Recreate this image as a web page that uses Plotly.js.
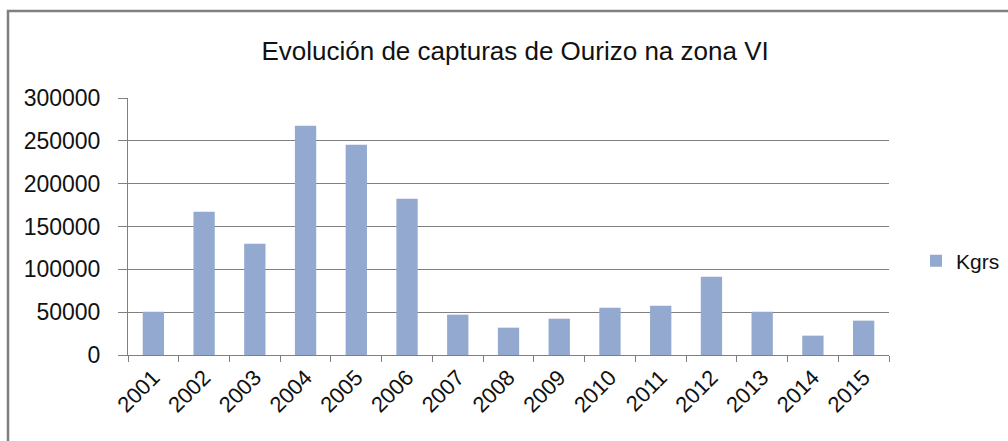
<!DOCTYPE html>
<html>
<head>
<meta charset="utf-8">
<script src="https://cdn.plot.ly/plotly-3.0.1.min.js"></script>
<style>html,body{margin:0;padding:0;background:#fff;overflow:hidden;}#chart{width:1008px;height:441px;}</style>
</head>
<body>
<div id="chart"></div>
<script>
const years = ["2001","2002","2003","2004","2005","2006","2007","2008","2009","2010","2011","2012","2013","2014","2015"];
const kgrs = [50600, 167300, 130000, 267700, 245500, 182500, 47100, 31900, 42400, 55300, 57600, 91400, 50600, 22600, 40100];
const seriesName = "Kgrs";
const chartTitle = "Evolución de capturas de Ourizo na zona VI";
const yTicks = [0, 50000, 100000, 150000, 200000, 250000, 300000];

const FONT = "Liberation Sans, Arial, sans-serif";
const L = 128, R = 889, T = 98, B = 355;
const W = 1008, H = 441;
const px2x = p => (p - L) / (R - L);
const py2y = p => (B - p) / (B - T);

Plotly.newPlot("chart", [{
  type: "bar",
  x: years,
  y: kgrs,
  name: seriesName,
  marker: {color: "#94A9CF"},
  showlegend: true
}], {
  width: W, height: H,
  margin: {l: L, r: W - R, t: T, b: H - B, pad: 0, autoexpand: false},
  paper_bgcolor: "#fff", plot_bgcolor: "#fff",
  font: {family: FONT, size: 23, color: "#111"},
  title: {text: chartTitle, x: 0.511, xanchor: "center", y: 0.885, yanchor: "middle",
          font: {family: FONT, size: 26, color: "#111"}},
  bargap: 0.58,
  xaxis: {
    type: "category",
    tickangle: -45,
    showline: true, linecolor: "#808080", linewidth: 1,
    ticks: "outside", tickson: "boundaries", ticklen: 6, tickcolor: "#808080",
    showgrid: false,
    tickfont: {family: FONT, size: 22, color: "#111"}
  },
  yaxis: {
    range: [0, 300000],
    tickvals: yTicks,
    ticktext: yTicks.map(String),
    showline: true, linecolor: "#808080", linewidth: 1,
    ticks: "outside", ticklen: 9, tickcolor: "#808080",
    ticklabelstandoff: 13,
    showgrid: true, gridcolor: "#808080", gridwidth: 1,
    zeroline: false,
    tickfont: {family: FONT, size: 23, color: "#111"}
  },
  legend: {x: px2x(916), xanchor: "left", y: py2y(261), yanchor: "middle",
           font: {family: FONT, size: 21, color: "#111"}, bgcolor: "rgba(0,0,0,0)"},
  shapes: [{
    type: "rect", xref: "paper", yref: "paper",
    x0: px2x(8), x1: px2x(1020), y0: py2y(460), y1: py2y(11),
    line: {color: "#808080", width: 2.5}, fillcolor: "rgba(0,0,0,0)", layer: "below"
  }]
}, {displayModeBar: false, staticPlot: true});
</script>
</body>
</html>
